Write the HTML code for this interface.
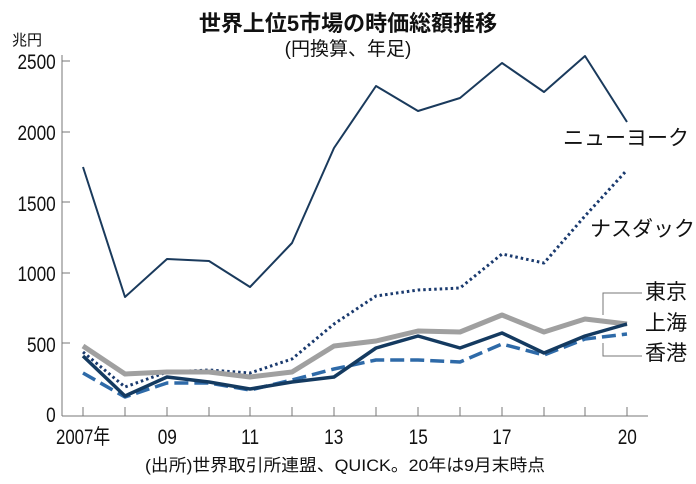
<!DOCTYPE html>
<html><head><meta charset="utf-8"><style>
html,body{margin:0;padding:0;background:#fff;}
svg{display:block;font-family:"Liberation Sans","Noto Sans CJK JP",sans-serif;}
</style></head><body>
<svg width="696" height="484" viewBox="0 0 696 484" xmlns="http://www.w3.org/2000/svg">
<text x="348" y="31" text-anchor="middle" font-size="22" font-weight="bold" fill="#111">世界上位5市場の時価総額推移</text>
<text x="348" y="55" text-anchor="middle" font-size="19" fill="#111">(円換算、年足)</text>
<text x="12" y="45" font-size="15" fill="#111">兆円</text>
<g font-size="21" fill="#111" text-anchor="end" transform="scale(0.82,1)">
<text x="68" y="69">2500</text>
<text x="68" y="140">2000</text>
<text x="68" y="211">1500</text>
<text x="68" y="281">1000</text>
<text x="68" y="352">500</text>
<text x="68" y="422">0</text>
</g>
<g stroke="#777" stroke-width="1" fill="none">
<line x1="62" y1="55" x2="62" y2="416"/>
<line x1="62" y1="416" x2="648" y2="416"/>
<line x1="62" y1="61" x2="70" y2="61"/><line x1="62" y1="132" x2="70" y2="132"/><line x1="62" y1="202" x2="70" y2="202"/><line x1="62" y1="273" x2="70" y2="273"/><line x1="62" y1="343" x2="70" y2="343"/>
<path d="M83 416v-9M125 416v-9M167 416v-9M209 416v-9M250 416v-9M292 416v-9M334 416v-9M376 416v-9M418 416v-9M460 416v-9M502 416v-9M544 416v-9M585 416v-9M627 416v-9"/>
<path d="M603 315V293H642M603 343V356H642"/>
</g>
<g font-size="21" fill="#111" text-anchor="middle">
<text x="56" y="444" text-anchor="start" transform="translate(56,0) scale(0.8,1) translate(-56,0)">2007年</text>
<g transform="scale(0.82,1)">
<text x="204" y="444">09</text><text x="305" y="444">11</text><text x="407" y="444">13</text><text x="510" y="444">15</text><text x="612" y="444">17</text><text x="765" y="444">20</text>
</g>
</g>
<text x="345" y="471" text-anchor="middle" font-size="17" fill="#111" textLength="400" lengthAdjust="spacingAndGlyphs">(出所)世界取引所連盟、QUICK。20年は9月末時点</text>
<g fill="none" stroke-linejoin="round">
<polyline stroke="#1a3a5c" stroke-width="2" points="83,167 125,297 167,259 209,261 250,287 292,243 334,148 376,86 418,111 460,98 502,63 544,92 585,56 627,122"/>
<polyline stroke="#1a3a6e" stroke-width="3" stroke-dasharray="2.5,3" points="83,352 125,387 167,372 209,370 250,373 292,359 334,324 376,296 418,290 460,288 502,254 544,263 585,216 627,170"/>
<polyline stroke="#a0a0a0" stroke-width="5" points="83,346 125,374 167,372 209,372 250,377 292,372 334,346 376,341 418,331 460,332 502,315 544,332 585,319 627,324"/>
<polyline stroke="#2e6aa8" stroke-width="3.5" stroke-dasharray="14,6" points="83,373 125,397 167,383 209,383 250,390 292,380 334,369 376,360 418,360 460,362 502,344 544,355 585,339 627,334"/>
<polyline stroke="#143a60" stroke-width="3.5" points="83,356 125,396 167,377 209,382 250,389 292,382 334,377 376,348 418,336 460,348 502,333 544,353 585,336 627,324"/>
</g>
<g font-size="21" fill="#111">
<text x="563" y="145">ニューヨーク</text>
<text x="590" y="236">ナスダック</text>
<text x="645" y="299">東京</text>
<text x="645" y="330">上海</text>
<text x="645" y="360">香港</text>
</g>
</svg>
</body></html>
